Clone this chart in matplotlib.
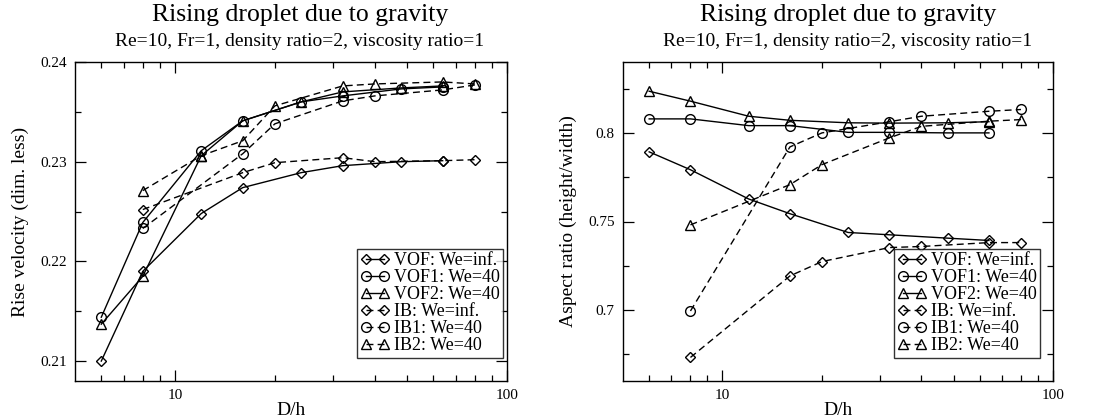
import matplotlib
matplotlib.use("Agg")
import matplotlib.pyplot as plt
from matplotlib.ticker import FixedLocator, NullFormatter, MultipleLocator, FormatStrFormatter

plt.rcParams['font.family'] = ['Liberation Serif', 'DejaVu Serif']

# ---------------- data ----------------
x_vof = [6, 8, 12, 16, 24, 32, 48, 64]
x_ib = [8, 16, 20, 32, 40, 64, 80]
x_ib2_left = [8, 12, 16, 20, 32, 40, 64, 80]

# Rise velocity (left)
rv_vof = [0.2100, 0.2190, 0.2248, 0.2274, 0.2289, 0.2296, 0.2300, 0.2301]
rv_vof1 = [0.2144, 0.2239, 0.2311, 0.2341, 0.2360, 0.2366, 0.2373, 0.2375]
rv_vof2 = [0.2137, 0.2185, 0.2306, 0.2341, 0.2360, 0.2370, 0.2374, 0.2376]
rv_ib = [0.2252, 0.2289, 0.2299, 0.2304, 0.2300, 0.2301, 0.2302]
rv_ib1 = [0.2233, 0.2308, 0.2338, 0.2361, 0.2366, 0.2372, 0.2377]
rv_ib2 = [0.2271, 0.2306, 0.2321, 0.2356, 0.2376, 0.2378, 0.2380, 0.2378]

# Aspect ratio (right)
ar_vof = [0.7893, 0.7792, 0.7627, 0.7544, 0.7438, 0.7425, 0.7406, 0.7393]
ar_vof1 = [0.8079, 0.8079, 0.8041, 0.8041, 0.8003, 0.8003, 0.8000, 0.8000]
ar_vof2 = [0.8235, 0.8179, 0.8094, 0.8071, 0.8057, 0.8055, 0.8057, 0.8063]
ar_ib = [0.6733, 0.7193, 0.7274, 0.7353, 0.7359, 0.7381, 0.7381]
ar_ib1 = [0.6995, 0.7921, 0.8000, 0.8063, 0.8094, 0.8122, 0.8132]
ar_ib2 = [0.7481, 0.7708, 0.7821, 0.7972, 0.8037, 0.8066, 0.8075]

labels = ["VOF: We=inf.", "VOF1: We=40", "VOF2: We=40",
          "IB: We=inf.", "IB1: We=40", "IB2: We=40"]

title = "Rising droplet due to gravity"
subtitle = "Re=10, Fr=1, density ratio=2, viscosity ratio=1"

# ---------------- figure ----------------
W, H = 1095, 420
fig = plt.figure(figsize=(W / 100, H / 100), dpi=100)


def ax_rect(x0, x1, y0, y1):
    return [x0 / W, 1 - y1 / H, (x1 - x0) / W, (y1 - y0) / H]


axL = fig.add_axes(ax_rect(75, 507, 62, 381))
axR = fig.add_axes(ax_rect(623, 1053, 62, 381))

markers = ['D', 'o', '^', 'D', 'o', '^']
msizes = [5, 7, 7, 5, 7, 7]
dash = (0, (5, 3))


def draw(ax, series_x, series_y, leg_anchor):
    for i, (xs, ys) in enumerate(zip(series_x, series_y)):
        ls = '-' if i < 3 else dash
        ax.plot(xs, ys, linestyle=ls, color='black', lw=1.0,
                marker=markers[i], markersize=msizes[i],
                markerfacecolor='none', markeredgecolor='black',
                markeredgewidth=1.0, label=labels[i])
    ax.set_xscale('log')
    ax.set_xlim(5, 100)
    ax.xaxis.set_major_locator(FixedLocator([10, 100]))
    ax.xaxis.set_major_formatter(FormatStrFormatter('%d'))
    ax.xaxis.set_minor_locator(FixedLocator([6, 7, 8, 9, 20, 30, 40, 50, 60, 70, 80, 90]))
    ax.xaxis.set_minor_formatter(NullFormatter())
    ax.tick_params(which='both', direction='in', top=True, right=True,
                   labelsize=11, pad=6, width=0.9)
    ax.tick_params(which='major', length=8)
    ax.tick_params(which='minor', length=4)
    for s in ax.spines.values():
        s.set_linewidth(1.0)
    ax.set_xlabel('D/h', fontsize=14, labelpad=0)
    leg = ax.legend(loc='lower right', fontsize=13, numpoints=2,
                    handlelength=1.6, handletextpad=0.25, labelspacing=0.0,
                    borderpad=0.2, borderaxespad=0.0, fancybox=False,
                    frameon=True, edgecolor='black',
                    bbox_to_anchor=(leg_anchor[0] / W, 1 - leg_anchor[1] / H),
                    bbox_transform=fig.transFigure)
    leg.get_frame().set_linewidth(1.0)


draw(axL, [x_vof, x_vof, x_vof, x_ib, x_ib, x_ib2_left],
     [rv_vof, rv_vof1, rv_vof2, rv_ib, rv_ib1, rv_ib2], (503, 358))
axL.set_ylim(0.208, 0.24)
axL.yaxis.set_major_locator(MultipleLocator(0.01))
axL.yaxis.set_minor_locator(MultipleLocator(0.005))
axL.yaxis.set_major_formatter(FormatStrFormatter('%.2f'))
axL.set_ylabel('Rise velocity (dim. less)', fontsize=14, labelpad=8)

draw(axR, [x_vof, x_vof, x_vof, x_ib, x_ib, x_ib],
     [ar_vof, ar_vof1, ar_vof2, ar_ib, ar_ib1, ar_ib2], (1040, 358))
axR.set_ylim(0.66, 0.84)
axR.yaxis.set_major_locator(FixedLocator([0.7, 0.75, 0.8]))
axR.yaxis.set_minor_locator(FixedLocator([0.675, 0.725, 0.775, 0.825]))
axR.yaxis.set_major_formatter(FormatStrFormatter('%g'))
axR.set_ylabel('Aspect ratio (height/width)', fontsize=14, labelpad=8)

for cx in (300, 848):
    fig.text(cx / W, 1 - 15 / H, title, ha='center', va='center', fontsize=18.5)
    fig.text(cx / W, 1 - 41 / H, subtitle, ha='center', va='center', fontsize=14)

fig.savefig('out.png', dpi=100)
